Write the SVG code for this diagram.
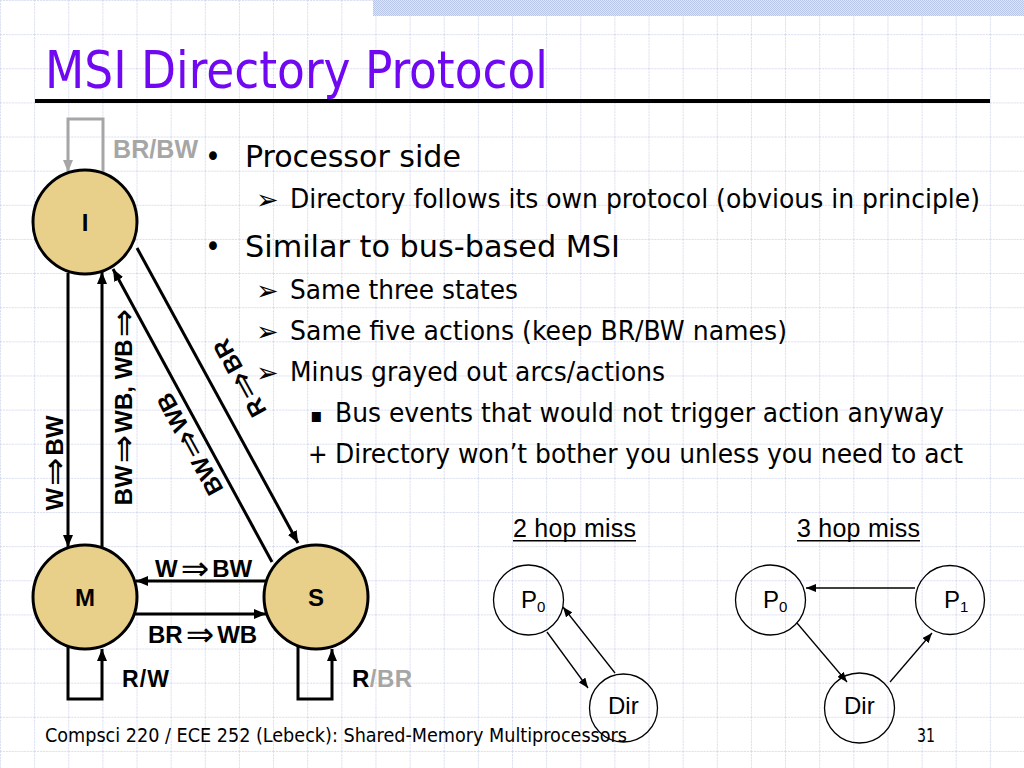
<svg xmlns="http://www.w3.org/2000/svg" width="1024" height="768" viewBox="0 0 1024 768">
<style>
.t{font-family:"DejaVu Sans Condensed","DejaVu Sans",sans-serif;fill:#000}
.lb{font-family:"Liberation Sans","DejaVu Sans",sans-serif;font-weight:bold;fill:#000}
.gr{fill:#A6A6A6}
.ar{font-family:"Liberation Sans","DejaVu Sans",sans-serif;fill:#000}
.st{fill:#E8D08A;stroke:#000;stroke-width:3}
.cn{stroke:#000;stroke-width:3;fill:none}
.sm{fill:none;stroke:#000;stroke-width:1.3}
.im{font-family:"DejaVu Sans",sans-serif;font-weight:normal;font-size:34px}
.bl{font-family:"DejaVu Sans",sans-serif;font-size:27px}
</style>
<defs>
<pattern id="grid" width="34.1333" height="34.1333" patternUnits="userSpaceOnUse">
<path d="M0.5,0 V34.1333 M0,0.5 H34.1333" stroke="#D8DCF0" stroke-width="1" stroke-dasharray="2,1" fill="none"/>
</pattern>
<pattern id="dots" width="2" height="2" patternUnits="userSpaceOnUse">
<rect width="2" height="2" fill="#DCE4F6"/>
<rect width="1" height="1" fill="#B8C7EA"/>
<rect x="1" y="1" width="1" height="1" fill="#B8C7EA"/>
</pattern>
<marker id="ah" viewBox="0 0 12 10" refX="12" refY="5" markerWidth="12" markerHeight="10" orient="auto" markerUnits="userSpaceOnUse"><path d="M0,0 L12,5 L0,10 z" fill="#000"/></marker>
<marker id="ahg" viewBox="0 0 12 10" refX="12" refY="5" markerWidth="12" markerHeight="10" orient="auto" markerUnits="userSpaceOnUse"><path d="M0,0 L12,5 L0,10 z" fill="#A6A6A6"/></marker>
<marker id="as" viewBox="0 0 10 8" refX="10" refY="4" markerWidth="10" markerHeight="8" orient="auto" markerUnits="userSpaceOnUse"><path d="M0,0 L10,4 L0,8 z" fill="#000"/></marker>
</defs>
<rect width="1024" height="768" fill="#fff"/>
<rect width="1024" height="768" fill="url(#grid)"/>
<rect x="373" y="0" width="651" height="16" fill="url(#dots)"/>

<g id="title">
<text x="45" y="88" font-size="52" fill="#7108F2" style="font-family:'DejaVu Sans Condensed','DejaVu Sans',sans-serif" textLength="503" lengthAdjust="spacingAndGlyphs">MSI Directory Protocol</text>
<rect x="35" y="99" width="955" height="4" fill="#000"/>
</g>

<g id="bullets">
<text class="t" x="205" y="167" font-size="30">•</text>
<text class="t" x="245" y="167" font-size="31" textLength="216" lengthAdjust="spacingAndGlyphs">Processor side</text>
<text class="t bl" x="256" y="209">➢</text>
<text class="t" x="290" y="208" font-size="26" textLength="690" lengthAdjust="spacingAndGlyphs">Directory follows its own protocol (obvious in principle)</text>
<text class="t" x="205" y="257" font-size="30">•</text>
<text class="t" x="245" y="257" font-size="31" textLength="375" lengthAdjust="spacingAndGlyphs">Similar to bus-based MSI</text>
<text class="t bl" x="256" y="300">➢</text>
<text class="t" x="290" y="299" font-size="26" textLength="228" lengthAdjust="spacingAndGlyphs">Same three states</text>
<text class="t bl" x="256" y="341">➢</text>
<text class="t" x="290" y="340" font-size="26" textLength="497" lengthAdjust="spacingAndGlyphs">Same five actions (keep BR/BW names)</text>
<text class="t bl" x="256" y="382">➢</text>
<text class="t" x="290" y="381" font-size="26" textLength="375" lengthAdjust="spacingAndGlyphs">Minus grayed out arcs/actions</text>
<text class="t" x="310" y="422" font-size="20">▪</text>
<text class="t" x="335" y="422" font-size="26" textLength="609" lengthAdjust="spacingAndGlyphs">Bus events that would not trigger action anyway</text>
<text class="t" x="308" y="463" font-size="26">+</text>
<text class="t" x="335" y="463" font-size="26" textLength="628" lengthAdjust="spacingAndGlyphs">Directory won’t bother you unless you need to act</text>
</g>

<g id="connectors">
<path d="M103,174 V119 H68 V172" fill="none" stroke="#A6A6A6" stroke-width="3" marker-end="url(#ahg)"/>
<path class="cn" d="M68,646 V699 H102 V649" marker-end="url(#ah)"/>
<path class="cn" d="M298,646 V699 H332 V649" marker-end="url(#ah)"/>
<line class="cn" x1="68" y1="273" x2="68" y2="547" marker-end="url(#ah)"/>
<line class="cn" x1="102" y1="548" x2="102" y2="272" marker-end="url(#ah)"/>
<line class="cn" x1="266" y1="581" x2="136" y2="581" marker-end="url(#ah)"/>
<line class="cn" x1="134" y1="614" x2="266" y2="614" marker-end="url(#ah)"/>
<line class="cn" x1="272" y1="562" x2="113" y2="269" marker-end="url(#ah)"/>
<line class="cn" x1="137" y1="248" x2="298" y2="543" marker-end="url(#ah)"/>
<line class="sm" x1="547" y1="632" x2="588" y2="688" marker-end="url(#as)"/>
<line class="sm" x1="615" y1="673" x2="563" y2="607" marker-end="url(#as)"/>
<line class="sm" x1="915" y1="588" x2="806" y2="588" marker-end="url(#as)"/>
<line class="sm" x1="797" y1="623" x2="847" y2="682" marker-end="url(#as)"/>
<line class="sm" x1="890" y1="682" x2="932" y2="633" marker-end="url(#as)"/>
</g>

<g id="edge-labels">
<text class="lb gr" x="113" y="158" font-size="25" textLength="85">BR/BW</text>
<text class="lb" x="122" y="687" font-size="23" textLength="47">R/W</text>
<text class="lb" x="352" y="687" font-size="24" textLength="60">R<tspan class="gr">/BR</tspan></text>
<text class="lb" x="155" y="577" font-size="24">W<tspan class="im" dx="3" dy="3">⇒</tspan><tspan dx="3" dy="-3">BW</tspan></text>
<text class="lb" x="148" y="643" font-size="24">BR<tspan class="im" dx="3" dy="3">⇒</tspan><tspan dx="3" dy="-3">WB</tspan></text>
<text class="lb" transform="translate(55,463) rotate(-90)" x="0" y="8" font-size="24" text-anchor="middle">W<tspan class="im" dx="2" dy="3">⇒</tspan><tspan dx="2" dy="-3">BW</tspan></text>
<text class="lb" transform="translate(124,407) rotate(-90)" x="0" y="8" font-size="24" text-anchor="middle">BW<tspan class="im" dx="2" dy="3">⇒</tspan><tspan dx="2" dy="-3">WB, WB</tspan><tspan class="im" dx="2" dy="3">⇒</tspan></text>
<text class="lb" transform="translate(240,378) rotate(-118.6)" x="0" y="8" font-size="24" text-anchor="middle">R<tspan class="im" dx="2" dy="3">⇒</tspan><tspan dx="2" dy="-3">BR</tspan></text>
<text class="lb" transform="translate(190,444) rotate(-118.6)" x="0" y="8" font-size="24" text-anchor="middle">BW<tspan class="im" dx="2" dy="3">⇒</tspan><tspan dx="2" dy="-3">WB</tspan></text>
</g>

<g id="node-I"><circle class="st" cx="85" cy="222" r="52"/><text class="lb" x="85" y="231" font-size="24" text-anchor="middle">I</text></g>
<g id="node-M"><circle class="st" cx="85" cy="597" r="52"/><text class="lb" x="85" y="606" font-size="24" text-anchor="middle">M</text></g>
<g id="node-S"><circle class="st" cx="316" cy="597" r="52"/><text class="lb" x="316" y="606" font-size="24" text-anchor="middle">S</text></g>

<g id="hop2">
<text class="ar" x="513" y="537" font-size="25" textLength="123">2 hop miss</text>
<rect x="513" y="540" width="123" height="1.5" fill="#000"/>
</g>
<g id="hop3">
<text class="ar" x="797" y="537" font-size="25" textLength="123">3 hop miss</text>
<rect x="797" y="540" width="123" height="1.5" fill="#000"/>
</g>
<g id="h2-P0"><circle class="sm" cx="528.5" cy="600" r="35"/><text class="ar" x="521" y="608" font-size="24">P<tspan font-size="15" dy="4">0</tspan></text></g>
<g id="h2-Dir"><circle class="sm" cx="623.5" cy="708" r="34"/><text class="ar" x="608" y="714" font-size="24">Dir</text></g>
<g id="h3-P0"><circle class="sm" cx="770.5" cy="600" r="35"/><text class="ar" x="763" y="608" font-size="24">P<tspan font-size="15" dy="4">0</tspan></text></g>
<g id="h3-P1"><circle class="sm" cx="950" cy="600" r="34.5"/><text class="ar" x="944" y="608" font-size="24">P<tspan font-size="15" dy="4">1</tspan></text></g>
<g id="h3-Dir"><circle class="sm" cx="859.5" cy="708" r="35"/><text class="ar" x="844" y="714" font-size="24">Dir</text></g>

<g id="footer">
<text class="t" x="45" y="742" font-size="19" textLength="582" lengthAdjust="spacingAndGlyphs">Compsci 220 / ECE 252 (Lebeck): Shared-Memory Multiprocessors</text>
<text class="t" x="917" y="742" font-size="19" textLength="18" lengthAdjust="spacingAndGlyphs">31</text>
</g>
</svg>
